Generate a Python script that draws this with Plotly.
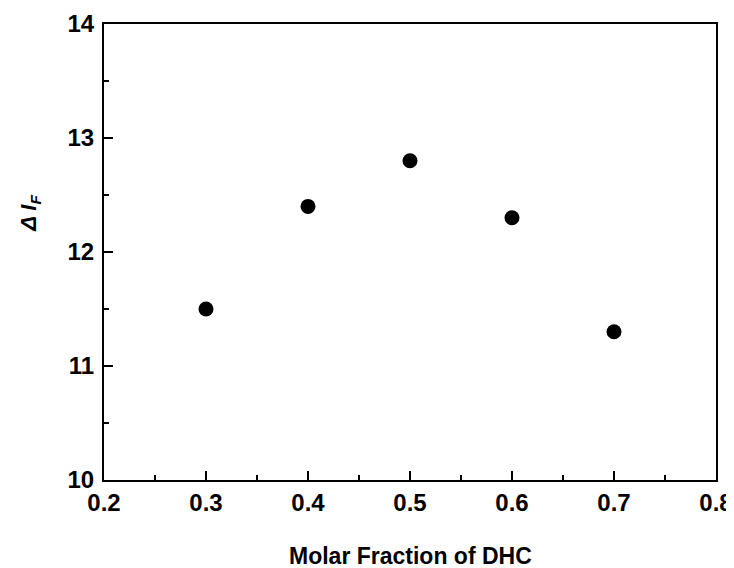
import plotly.graph_objects as go

molar_fraction = [0.3, 0.4, 0.5, 0.6, 0.7]
delta_if = [11.5, 12.4, 12.8, 12.3, 11.3]
x_ticks = [0.2, 0.3, 0.4, 0.5, 0.6, 0.7, 0.8]
y_ticks = [10, 11, 12, 13, 14]

FONT = "Liberation Sans, Arial, sans-serif"

fig = go.Figure()
fig.add_trace(go.Scatter(
    x=molar_fraction, y=delta_if, mode="markers",
    marker=dict(size=15, color="black", line=dict(width=0)),
    showlegend=False,
))

axis_common = dict(
    showgrid=False, zeroline=False, showline=True, linecolor="black", linewidth=2,
    mirror=True, ticks="inside", ticklen=9, tickwidth=2, tickcolor="black",
    tickfont=dict(family=FONT, size=24, color="black", weight="bold"),
    automargin=False,
)

fig.update_xaxes(
    range=[0.2, 0.8], tickvals=x_ticks, ticktext=[f"{v:.1f}" for v in x_ticks],
    minor=dict(ticks="inside", ticklen=5, tickwidth=2, tickcolor="black", dtick=0.05),
    ticklabeloverflow="allow",
    **axis_common,
)
fig.update_yaxes(
    range=[10, 14], tickvals=y_ticks, ticktext=[str(v) for v in y_ticks],
    minor=dict(ticks="inside", ticklen=5, tickwidth=2, tickcolor="black", dtick=0.5),
    ticklabelstandoff=3,
    **axis_common,
)

fig.add_annotation(
    text="<b>Molar Fraction of DHC</b>", xref="paper", yref="paper",
    x=0.5, y=-0.167, showarrow=False, yanchor="middle", xanchor="center",
    font=dict(family=FONT, size=23, color="black"),
)
fig.add_annotation(
    text="<b><i>Δ I<sub>F</sub></i></b>", xref="paper", yref="paper",
    x=-0.121, y=0.586, showarrow=False, textangle=-90, xanchor="center", yanchor="middle",
    font=dict(family=FONT, size=22, color="black"),
)

fig.update_layout(
    width=726, height=560,
    margin=dict(l=96, r=18, t=16, b=88, autoexpand=False),
    plot_bgcolor="white", paper_bgcolor="white",
)

fig.write_html("out.html")
